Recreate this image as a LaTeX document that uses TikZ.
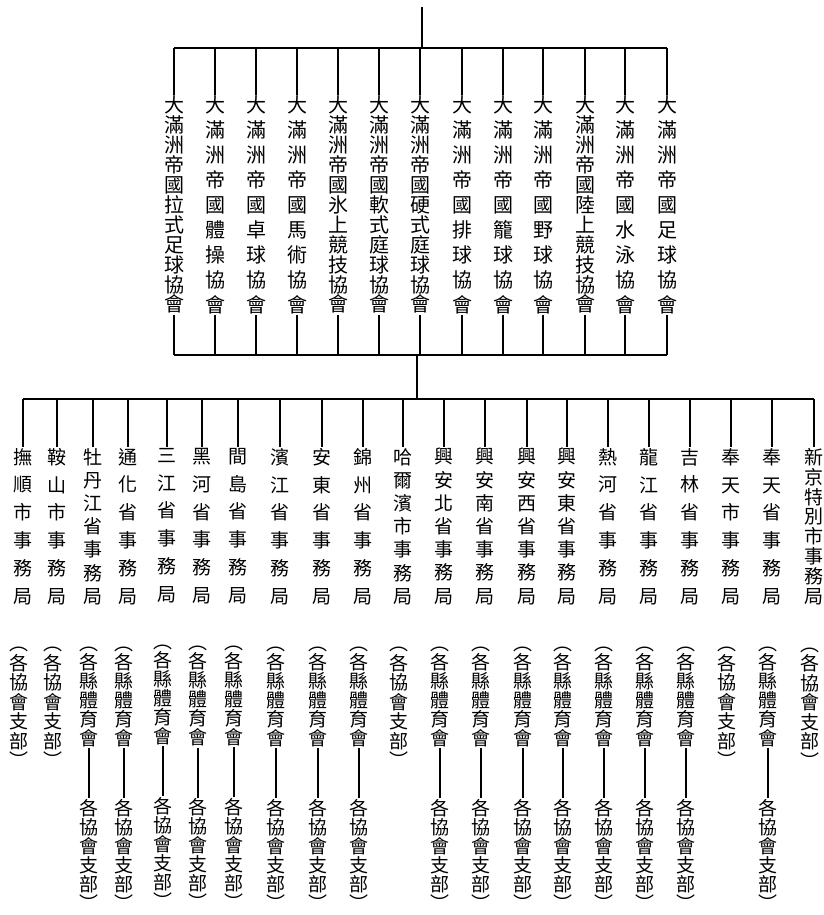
\documentclass[tikz,border=0pt]{standalone}
\usepackage{fontspec}
\setmainfont{Noto Sans CJK TC}
\usetikzlibrary{positioning}

% vertical text: one character under the other, #1 = pitch
\makeatletter
\newcommand{\tate}[2]{\vbox{\baselineskip=#1\lineskiplimit=-\maxdimen
  \@tfor\tate@c:=#2\do{\hbox to 1em{\hss\tate@c\hss}}}}
\makeatother

\begin{document}
\begin{tikzpicture}[
  x=1pt, y=-1pt,
  assoc/.style={anchor=north, inner sep=1pt, font=\fontsize{20}{20}\selectfont},
  office/.style={anchor=north, inner sep=1pt, font=\fontsize{19}{19}\selectfont},
  branch/.style={inner sep=1pt, font=\fontsize{19}{19}\selectfont},
  wire/.style={line width=1.3pt}
]
\useasboundingbox (0,0) rectangle (823,915);

% national associations
\node[assoc] (a1) at (174,95) {\tate{19.9pt}{大滿洲帝國拉式足球協會}};
\node[assoc] (a2) at (215,95) {\tate{24.9pt}{大滿洲帝國體操協會}};
\node[assoc] (a3) at (256,95) {\tate{24.9pt}{大滿洲帝國卓球協會}};
\node[assoc] (a4) at (297,95) {\tate{24.9pt}{大滿洲帝國馬術協會}};
\node[assoc] (a5) at (338,95) {\tate{19.9pt}{大滿洲帝國氷上競技協會}};
\node[assoc] (a6) at (379,95) {\tate{19.9pt}{大滿洲帝國軟式庭球協會}};
\node[assoc] (a7) at (420,95) {\tate{19.9pt}{大滿洲帝國硬式庭球協會}};
\node[assoc] (a8) at (462,95) {\tate{24.9pt}{大滿洲帝國排球協會}};
\node[assoc] (a9) at (503,95) {\tate{24.9pt}{大滿洲帝國籠球協會}};
\node[assoc] (a10) at (543,95) {\tate{24.9pt}{大滿洲帝國野球協會}};
\node[assoc] (a11) at (585,95) {\tate{19.9pt}{大滿洲帝國陸上競技協會}};
\node[assoc] (a12) at (625,95) {\tate{24.9pt}{大滿洲帝國水泳協會}};
\node[assoc] (a13) at (667,95) {\tate{24.9pt}{大滿洲帝國足球協會}};

\coordinate (root) at (422,7);
\coordinate (topbus) at (422,48);
\coordinate (midbus) at (417,355);
\coordinate (lowbus) at (417,399);

\draw[wire] (root) -- (topbus);
\draw[wire] (a1.north |- topbus) -- (a13.north |- topbus);
\draw[wire] (a1.south |- midbus) -- (a13.south |- midbus);
\foreach \i in {1,...,13} {
  \draw[wire] (a\i.north |- topbus) -- (a\i.north);
  \draw[wire] (a\i.south) -- (a\i.south |- midbus);
}
\draw[wire] (midbus) -- (lowbus);

% local offices
\node[office] (o1) at (23,447) {\tate{27.8pt}{撫順市事務局}};
\node[office] (o2) at (57,447) {\tate{27.8pt}{鞍山市事務局}};
\node[office] (o3) at (93,447) {\tate{23.2pt}{牡丹江省事務局}};
\node[office] (o4) at (128,447) {\tate{27.8pt}{通化省事務局}};
\node[office] (o5) at (167,447) {\tate{27.8pt}{三江省事務局}};
\node[office] (o6) at (202,447) {\tate{27.8pt}{黑河省事務局}};
\node[office] (o7) at (238,447) {\tate{27.8pt}{間島省事務局}};
\node[office] (o8) at (280,447) {\tate{27.8pt}{濱江省事務局}};
\node[office] (o9) at (322,447) {\tate{27.8pt}{安東省事務局}};
\node[office] (o10) at (363,447) {\tate{27.8pt}{錦州省事務局}};
\node[office] (o11) at (403,447) {\tate{23.2pt}{哈爾濱市事務局}};
\node[office] (o12) at (444,447) {\tate{23.2pt}{興安北省事務局}};
\node[office] (o13) at (485,447) {\tate{23.2pt}{興安南省事務局}};
\node[office] (o14) at (527,447) {\tate{23.2pt}{興安西省事務局}};
\node[office] (o15) at (567,447) {\tate{23.2pt}{興安東省事務局}};
\node[office] (o16) at (608,447) {\tate{27.8pt}{熱河省事務局}};
\node[office] (o17) at (649,447) {\tate{27.8pt}{龍江省事務局}};
\node[office] (o18) at (690,447) {\tate{27.8pt}{吉林省事務局}};
\node[office] (o19) at (731,447) {\tate{27.8pt}{奉天市事務局}};
\node[office] (o20) at (772,447) {\tate{27.8pt}{奉天省事務局}};
\node[office] (o21) at (814,447) {\tate{19.9pt}{新京特別市事務局}};

\draw[wire] (o1.north |- lowbus) -- (o21.north |- lowbus);
\foreach \i in {1,...,21}
  \draw[wire] (o\i.north |- lowbus) -- (o\i.north);

% branches
\foreach \i in {1,2,11,19,21}
  \node[branch, below=40pt of o\i, xshift=-4pt] (u\i) {\tate{19.5pt}{︵各協會支部︶}};
\foreach \i in {3,4,5,6,7,8,9,10,12,13,14,15,16,17,18,20} {
  \node[branch, below=40pt of o\i, xshift=-4pt] (u\i) {\tate{19pt}{︵各縣體育會}};
  \node[branch, below=50pt of u\i] (l\i) {\tate{19pt}{各協會支部︶}};
  \draw[wire] (u\i) -- (l\i);
}

\end{tikzpicture}
\end{document}
